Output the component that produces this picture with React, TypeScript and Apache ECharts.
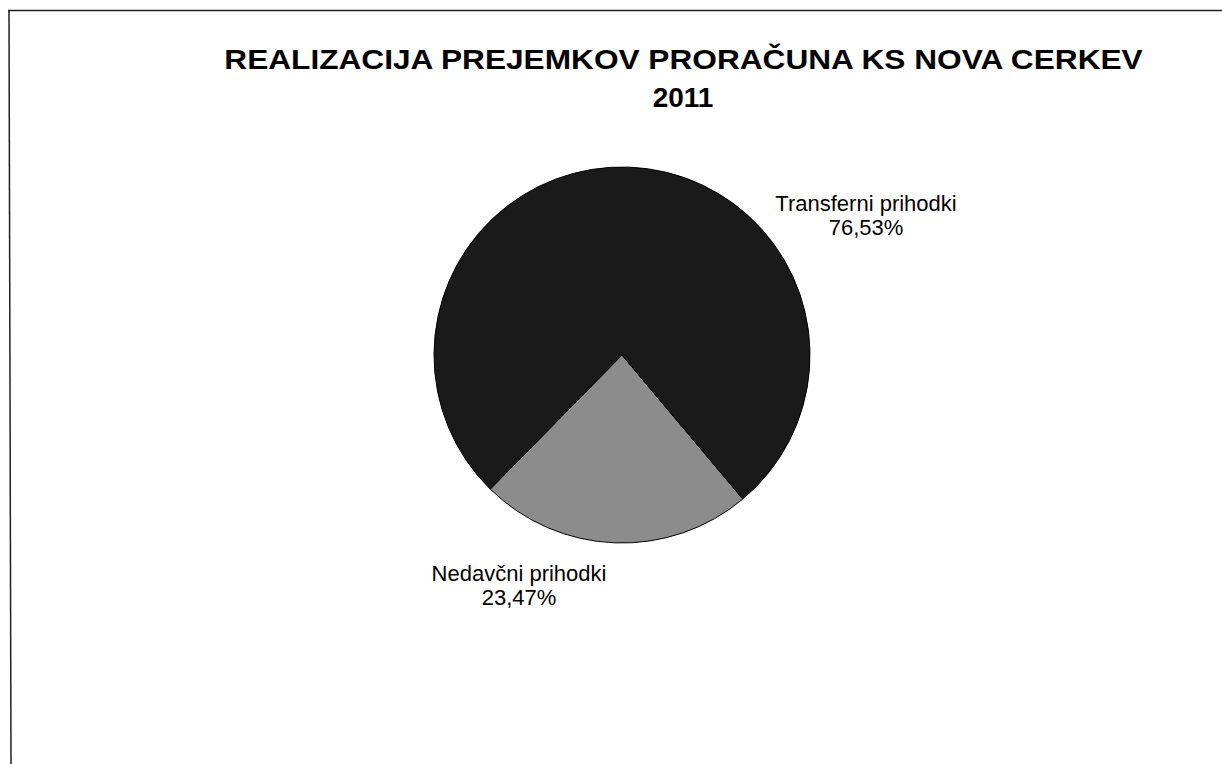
import React, { useEffect, useRef } from "react";
import * as echarts from "echarts";

const titleLines = ["REALIZACIJA PREJEMKOV PRORAČUNA KS NOVA CERKEV", "2011"];
const categories = ["Nedavčni prihodki", "Transferni prihodki"];
const values = [23.47, 76.53];
const colors = ["#8c8c8c", "#1a1a1a"];
const labelPos = [
  { x: 519, y: 585 },
  { x: 866, y: 215 },
];

export default function App() {
  const ref = useRef<HTMLDivElement>(null);
  useEffect(() => {
    document.body.style.margin = "0";
    const chart = echarts.init(ref.current!, null, { renderer: "svg" });
    chart.setOption({
      animation: false,
      backgroundColor: "#ffffff",
      graphic: [
        {
          type: "line",
          shape: { x1: 8, y1: 10.5, x2: 1222, y2: 10.5 },
          style: { stroke: "#222", lineWidth: 1.5 },
        },
        {
          type: "line",
          shape: { x1: 9, y1: 10, x2: 11, y2: 764 },
          style: { stroke: "#222", lineWidth: 1.5 },
        },
        {
          type: "text",
          x: 683.5,
          y: 59.5,
          scaleX: 1.13,
          style: {
            text: titleLines[0],
            fontFamily: "Liberation Sans, Arial, sans-serif",
            fontWeight: "bold",
            fontSize: 28,
            fill: "#000",
            align: "center",
            verticalAlign: "middle",
          },
        },
        {
          type: "text",
          x: 683,
          y: 97,
          style: {
            text: titleLines[1],
            fontFamily: "Liberation Sans, Arial, sans-serif",
            fontWeight: "bold",
            fontSize: 28,
            fill: "#000",
            align: "center",
            verticalAlign: "middle",
          },
        },
      ],
      series: [
        {
          type: "pie",
          center: [622, 355],
          radius: 188,
          startAngle: -50,
          clockwise: true,
          data: categories.map((c, i) => ({
            name: c,
            value: values[i],
            itemStyle: { color: colors[i] },
          })),
          itemStyle: { borderColor: "#000", borderWidth: 1 },
          label: {
            show: true,
            position: "outside",
            formatter: (p: any) =>
              p.name + "\n" + p.value.toFixed(2).replace(".", ",") + "%",
            fontFamily: "Liberation Sans, Arial, sans-serif",
            fontSize: 22,
            lineHeight: 24,
            color: "#000",
            align: "center",
          },
          labelLine: { show: false },
          labelLayout: (params: any) => ({
            x: labelPos[params.dataIndex].x,
            y: labelPos[params.dataIndex].y,
            align: "center",
            verticalAlign: "middle",
          }),
          emphasis: { disabled: true },
        },
      ],
    });
    return () => chart.dispose();
  }, []);
  return (
    <div
      ref={ref}
      style={{ position: "absolute", left: 0, top: 0, width: 1222, height: 764 }}
    />
  );
}
